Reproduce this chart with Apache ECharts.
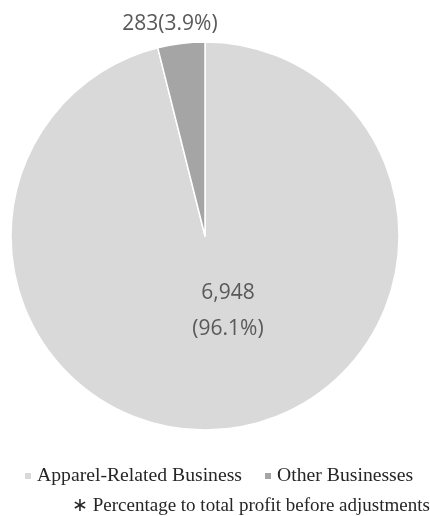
<!DOCTYPE html>
<html><head><meta charset="utf-8">
<script src="https://cdn.jsdelivr.net/npm/echarts@6/dist/echarts.min.js"></script>
<style>html,body{margin:0;padding:0;background:#fff}#c{width:430px;height:516px}</style>
</head><body><div id="c"></div>
<script>
const categories = ['Apparel-Related Business', 'Other Businesses'];
const values = [6948, 283];
const percents = ['96.1%', '3.9%'];
const footnote = '\u2217 Percentage to total profit before adjustments';
const colors = ['#d9d9d9', '#a5a5a5'];

const chart = echarts.init(document.getElementById('c'));
chart.setOption({
  animation: false,
  title: {
    text: footnote, left: 67, top: 492,
    textStyle: {fontFamily: 'Liberation Serif', fontSize: 19, fontWeight: 'normal', color: '#262626'}
  },
  legend: {
    data: categories, left: 18, top: 461, icon: 'rect', itemWidth: 8, itemHeight: 8, itemGap: 21,
    textStyle: {fontFamily: 'Liberation Serif', fontSize: 19.7, color: '#262626'}
  },
  series: [{
    type: 'pie', center: [205, 236], radius: 194, startAngle: 90, clockwise: true,
    itemStyle: {borderColor: '#fff', borderWidth: 1.5},
    labelLine: {show: false},
    data: [
      {name: categories[0], value: values[0], itemStyle: {color: colors[0]},
       label: {show: true, position: 'center', offset: [23, 75],
               formatter: () => values[0].toLocaleString('en-US') + '\n(' + percents[0] + ')',
               lineHeight: 36, fontSize: 21, fontFamily: 'Open Sans', color: '#595959'}},
      {name: categories[1], value: values[1], itemStyle: {color: colors[1]},
       label: {show: true, position: 'center', offset: [-35, -212],
               formatter: () => values[1] + '(' + percents[1] + ')',
               fontSize: 21, fontFamily: 'Open Sans', color: '#595959'}}
    ]
  }]
});
</script></body></html>
